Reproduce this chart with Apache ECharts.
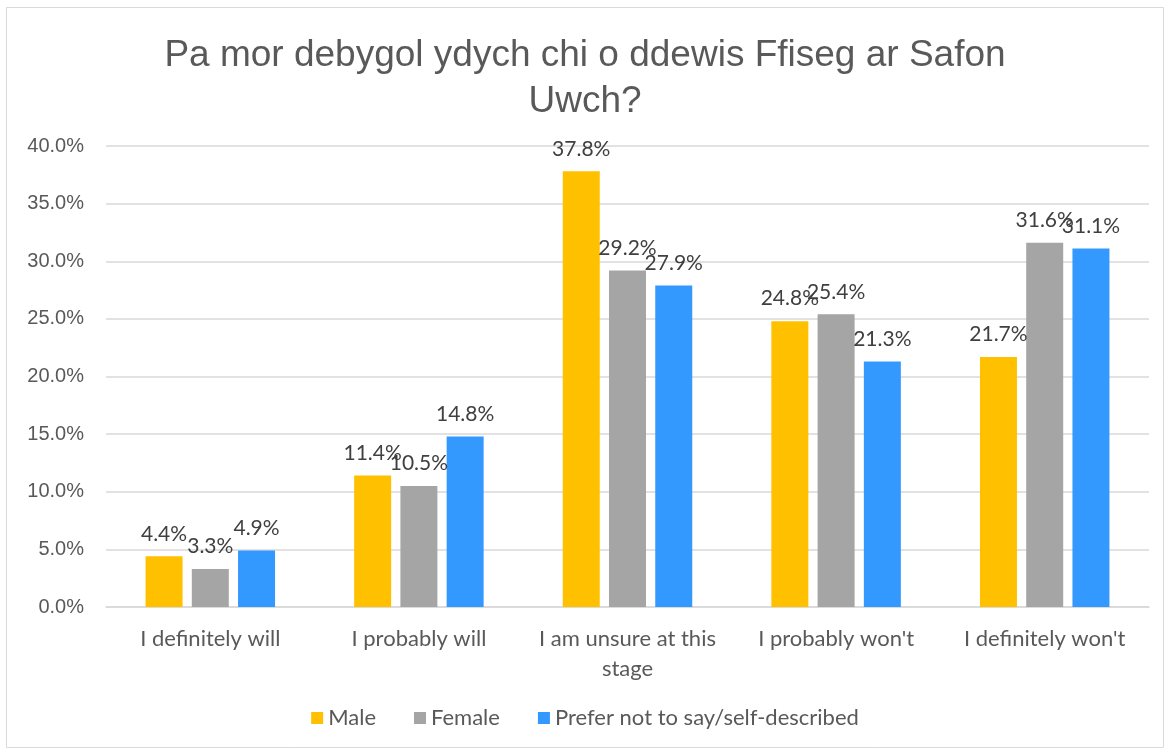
<!DOCTYPE html>
<html>
<head>
<meta charset="utf-8">
<script src="https://cdn.jsdelivr.net/npm/echarts@6/dist/echarts.min.js"></script>
<style>
    html, body { margin: 0; padding: 0; background: #fff; }
    #chart { width: 1170px; height: 754px; }
</style>
</head>
<body>
<div id="chart"></div>
<script>
    // categories and series
    var categories = ['I definitely will', 'I probably will', 'I am unsure at this\nstage', "I probably won't", "I definitely won't"]
    var male = [4.4, 11.4, 37.8, 24.8, 21.7]
    var female = [3.3, 10.5, 29.2, 25.4, 31.6]
    var preferNot = [4.9, 14.8, 27.9, 21.3, 31.1]
    var seriesNames = ['Male', 'Female', 'Prefer not to say/self-described']
    var colors = ['#FFC000', '#A5A5A5', '#3399FF']

    var chart = echarts.init(document.getElementById('chart'))

    function barSeries(name, data, color) {
        return {
            name: name,
            type: 'bar',
            data: data,
            barWidth: 37,
            barGap: '25%',
            itemStyle: { color: color },
            label: {
                show: true,
                position: 'top',
                distance: 12,
                color: '#404040',
                fontSize: 21,
                fontFamily: 'Lato',
                formatter: function (p) { return p.value.toFixed(1) + '%' }
            }
        }
    }

    chart.setOption({
        animation: false,
        color: colors,
        title: {
            text: 'Pa mor debygol ydych chi o ddewis Ffiseg ar Safon\nUwch?',
            left: 'center',
            top: 28,
            textStyle: {
                fontFamily: 'Liberation Sans',
                fontSize: 37,
                fontWeight: 'normal',
                color: '#595959',
                lineHeight: 46
            }
        },
        graphic: [{
            type: 'rect',
            shape: { x: 6.5, y: 7.5, width: 1157, height: 740 },
            style: { fill: 'none', stroke: '#D9D9D9', lineWidth: 1 },
            silent: true
        }],
        legend: {
            bottom: 20,
            left: 'center',
            itemWidth: 12,
            itemHeight: 12,
            itemGap: 38,
            icon: 'rect',
            textStyle: { fontFamily: 'Lato', fontSize: 22, color: '#595959' },
            data: seriesNames
        },
        grid: {
            left: 106,
            right: 21,
            top: 146,
            bottom: 147
        },
        xAxis: {
            type: 'category',
            data: categories,
            axisTick: { show: false },
            axisLine: { lineStyle: { color: '#D9D9D9', width: 1.5 } },
            axisLabel: {
                interval: 0,
                hideOverlap: false,
                fontFamily: 'Lato',
                fontSize: 22,
                color: '#595959',
                margin: 17,
                lineHeight: 30
            }
        },
        yAxis: {
            type: 'value',
            min: 0,
            max: 40,
            interval: 5,
            axisLine: { show: false },
            axisTick: { show: false },
            splitLine: { lineStyle: { color: '#D9D9D9', width: 1.5 } },
            axisLabel: {
                fontFamily: 'Liberation Sans',
                fontSize: 20,
                color: '#595959',
                margin: 22,
                formatter: function (v) { return v.toFixed(1) + '%' }
            }
        },
        series: [
            barSeries(seriesNames[0], male, colors[0]),
            barSeries(seriesNames[1], female, colors[1]),
            barSeries(seriesNames[2], preferNot, colors[2])
        ]
    })
</script>
</body>
</html>
